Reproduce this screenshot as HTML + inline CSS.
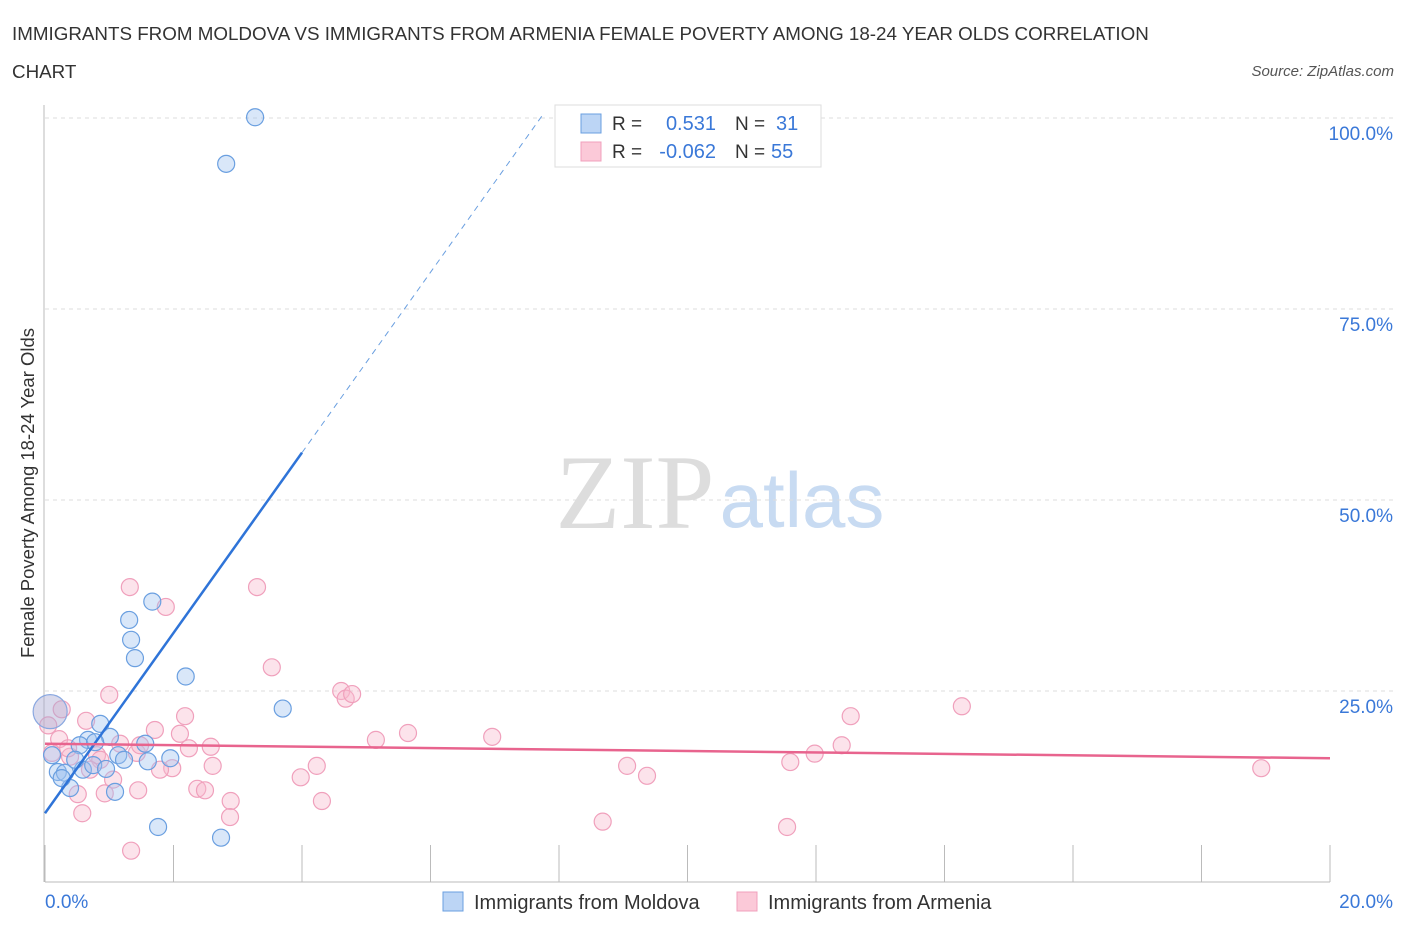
<!DOCTYPE html>
<html><head><meta charset="utf-8"><style>
body{margin:0;background:#fff;font-family:"Liberation Sans",sans-serif}
#c{position:relative;width:1406px;height:930px}
</style></head><body>
<div id="c">
<svg id="s" width="1406" height="930" xmlns="http://www.w3.org/2000/svg">
<text x="12" y="40" font-size="18.8" fill="#333">IMMIGRANTS FROM MOLDOVA VS IMMIGRANTS FROM ARMENIA FEMALE POVERTY AMONG 18-24 YEAR OLDS CORRELATION</text>
<text x="12" y="78" font-size="18.8" fill="#333">CHART</text>
<text x="1394" y="76" font-size="15" fill="#555" font-style="italic" text-anchor="end">Source: ZipAtlas.com</text>
<text x="635" y="528" font-size="106" fill="#ddd" font-family="Liberation Serif,serif" text-anchor="middle">ZIP</text>
<text x="802" y="527" font-size="78" fill="#c8dbf2" text-anchor="middle">atlas</text>
<g id="grid"></g>
<g id="marks"></g>
<text transform="translate(34,493) rotate(-90)" font-size="18.5" fill="#333" text-anchor="middle">Female Poverty Among 18-24 Year Olds</text>
<text x="45" y="908" font-size="19" fill="#3a78d8">0.0%</text>
<text x="1393" y="908" font-size="19" fill="#3a78d8" text-anchor="end">20.0%</text>
<g>
<rect x="555" y="105" width="266" height="62" fill="#fff" stroke="#ddd"/>
<rect x="581" y="114" width="20" height="19" fill="#bcd5f5" stroke="#6a9fe0"/>
<rect x="581" y="142" width="20" height="19" fill="#fbc9d8" stroke="#f0a0bc"/>
<text x="612" y="130" font-size="19" fill="#333">R = </text><text x="716" y="130" font-size="20" fill="#3a78d8" text-anchor="end">0.531</text>
<text x="735" y="130" font-size="19" fill="#333">N = </text><text x="776" y="130" font-size="20" fill="#3a78d8">31</text>
<text x="612" y="158" font-size="19" fill="#333">R = </text><text x="716" y="158" font-size="20" fill="#3a78d8" text-anchor="end">-0.062</text>
<text x="735" y="158" font-size="19" fill="#333">N = </text><text x="771" y="158" font-size="20" fill="#3a78d8">55</text>
</g>
<g>
<rect x="443" y="892" width="20" height="19" fill="#bcd5f5" stroke="#6a9fe0"/>
<text x="474" y="909" font-size="20" fill="#333">Immigrants from Moldova</text>
<rect x="737" y="892" width="20" height="19" fill="#fbc9d8" stroke="#f0a0bc"/>
<text x="768" y="909" font-size="20" fill="#333">Immigrants from Armenia</text>
</g>
</svg></div>
<script>
const yTicks=[25,50,75,100];
const moldovaX=[3.27,2.82,1.67,1.31,1.34,1.40,2.19,3.70,0.86,1.01,0.67,0.54,0.78,1.56,1.14,1.23,1.60,1.95,0.20,0.31,0.59,0.75,0.95,0.39,1.09,1.76,2.74,0.11,0.26,0.47];
const moldovaY=[100.1,94.0,36.7,34.3,31.7,29.3,26.9,22.7,20.7,19.0,18.6,17.9,18.3,18.1,16.6,16.0,15.8,16.2,14.4,14.3,14.7,15.3,14.8,12.3,11.8,7.2,5.8,16.6,13.6,16.0];
const moldovaBig=[0.08,22.3];
const armeniaX=[1.32,3.30,1.88,3.53,4.61,4.68,4.78,1.00,0.26,0.64,2.18,1.71,2.10,0.22,1.17,2.24,2.58,0.11,0.81,1.43,2.61,1.98,3.98,4.23,1.06,2.37,0.51,0.93,1.45,2.89,4.31,2.88,0.58,1.34,5.15,5.65,6.96,9.06,9.37,8.68,11.55,11.60,11.98,12.40,12.54,14.27,18.93,0.05,0.39,0.86,1.48,2.49,0.36,0.70,1.79];
const armeniaY=[38.6,38.6,36.0,28.1,25.0,24.0,24.6,24.5,22.6,21.1,21.7,19.9,19.4,18.7,18.1,17.5,17.7,16.9,16.6,16.9,15.2,14.9,13.7,15.2,13.4,12.2,11.5,11.6,12.0,10.6,10.6,8.5,9.0,4.1,18.6,19.5,19.0,15.2,13.9,7.9,7.2,15.7,16.8,17.9,21.7,23.0,14.9,20.5,16.4,16.0,17.9,12.0,17.5,14.7,14.7];
const moldovaTrend=[9.0,11.8]; // intercept, slope
const armeniaTrend=[18.1,16.2]; // y at 0 and at 20
const X=v=>45+v*64.25, Y=v=>882-v*7.64;
const NS='http://www.w3.org/2000/svg';
const g=document.getElementById('grid'), m=document.getElementById('marks');
function mk(tag,at,par){const e=document.createElementNS(NS,tag);for(const k in at)e.setAttribute(k,at[k]);par.appendChild(e);return e;}
yTicks.forEach(t=>{
 const l=mk('line',{x1:45,x2:1393,y1:Y(t),y2:Y(t),stroke:'#ddd','stroke-dasharray':'4,4'},g);
 
 
 const tx=mk('text',{x:1393,y:Y(t)+22,'font-size':19,fill:'#3a78d8','text-anchor':'end'},g);
 tx.textContent=t.toFixed(1)+'%';
 
 
});
for(let i=0;i<=10;i++){
 const t=mk('line',{x1:X(i*2),x2:X(i*2),y1:845,y2:882,stroke:'#bbb'},g);
 
 
}
mk('line',{x1:44,x2:44,y1:105,y2:882,stroke:'#bbb'},g);
mk('line',{x1:45,x2:1330,y1:882,y2:882,stroke:'#bbb'},g);
armeniaX.forEach((x,i)=>{
 const c=mk('circle',{cx:X(x),cy:Y(armeniaY[i]),r:8.5,fill:'rgba(248,185,205,0.4)',stroke:'#f0a0bc','stroke-width':1.2},m);
 
 
});
moldovaX.forEach((x,i)=>{
 const c=mk('circle',{cx:X(x),cy:Y(moldovaY[i]),r:8.5,fill:'rgba(160,196,240,0.4)',stroke:'#6a9fe0','stroke-width':1.2},m);
 
 
});
const big=mk('circle',{cx:X(moldovaBig[0]),cy:Y(moldovaBig[1]),r:17,fill:'rgba(170,170,210,0.45)',stroke:'#8aa8e0','stroke-width':1.2},m);


const xe=4.0, xd=(100-moldovaTrend[0])/moldovaTrend[1]+0.05;
const bl=mk('line',{x1:X(0),y1:Y(moldovaTrend[0]),x2:X(xe),y2:Y(moldovaTrend[0]+moldovaTrend[1]*xe),stroke:'#2f74d8','stroke-width':2.5},m);


const bd=mk('line',{x1:X(xe),y1:Y(moldovaTrend[0]+moldovaTrend[1]*xe),x2:X(xd),y2:Y(moldovaTrend[0]+moldovaTrend[1]*xd),stroke:'#6a9fe0','stroke-width':1,'stroke-dasharray':'6,5'},m);


const pl=mk('line',{x1:X(0),y1:Y(armeniaTrend[0]),x2:X(20),y2:Y(armeniaTrend[1]),stroke:'#e8648e','stroke-width':2.5},m);


</script>
</body></html>
